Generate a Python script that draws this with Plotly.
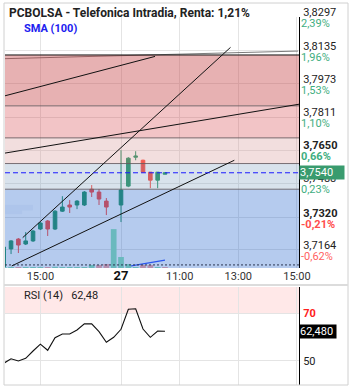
import plotly.graph_objects as go

# ---------------- data ----------------
idx = list(range(23))
opens = [3.7076, 3.7169, 3.7217, 3.7193, 3.7208, 3.7266, 3.7305, 3.7266, 3.7353, 3.7383, 3.7383, 3.7383,
         3.7460, 3.7446, 3.7402, None, 3.7383, 3.7475, 3.7616, 3.7601, 3.7543, 3.7504, 3.7533]
highs = [3.7183, 3.7212, 3.7222, 3.7251, 3.7261, 3.7300, 3.7310, 3.7358, 3.7426, 3.7407, 3.7407, 3.7451,
         3.7480, 3.7460, 3.7417, None, 3.7650, 3.7616, 3.7645, 3.7604, 3.7543, 3.7543, 3.7543]
lows = [3.7066, 3.7144, 3.7149, 3.7188, 3.7203, 3.7261, 3.7232, 3.7261, 3.7349, 3.7344, 3.7363, 3.7378,
        3.7422, 3.7383, 3.7334, None, 3.7300, 3.7470, 3.7601, 3.7541, 3.7465, 3.7465, 3.7533]
closes = [3.7178, 3.7208, 3.7188, 3.7208, 3.7256, 3.7295, 3.7266, 3.7353, 3.7373, 3.7373, 3.7402, 3.7446,
          3.7446, 3.7412, 3.7373, None, 3.7456, 3.7611, 3.7621, 3.7543, 3.7504, 3.7543, 3.7540]
volumes = [40, 30, 30, 40, 30, 30, 40, 50, 40, 30, 30, 40, 120, 120, 160, 1550, 440, 160, 20, 120, 120, 30, 20]
vol_up = [1, 1, 0, 1, 1, 1, 0, 1, 1, 1, 1, 1, 1, 0, 0, 1, 1, 1, 1, 0, 0, 1, 0]
rsi = [48.9, 50.8, 49.9, 51.0, 54.1, 57.0, 54.4, 59.7, 61.3, 61.3, 63.0, 65.6, 65.6, 62.3, 57.8, 59.9,
       63.3, 71.8, 72.0, 63.4, 59.9, 62.5, 62.48]
sma_x = [17, 18, 19, 20, 21, 22]
sma_vals = [3.7084, 3.7091, 3.7097, 3.7102, 3.7108, 3.7114]

profile_prices = [3.7370, 3.7347]
profile_sizes = [9.5, 5.8]

price_ticks = [3.8297, 3.8135, 3.7973, 3.7811, 3.7650, 3.7488, 3.7320, 3.7164]
price_labels = ["3,8297", "3,8135", "3,7973", "3,7811", "<b>3,7650</b>", "3,7488", "<b>3,7320</b>", "3,7164"]
pct_labels = ["2,39%", "1,96%", "1,53%", "1,10%", "<b>0,66%</b>", "0,23%",
              "<span style='color:#ff4d4d'><b>-0,21%</b></span>", "<span style='color:#ff5f5f'>-0,62%</span>"]

x_ticks = [5, 16, 24, 32, 40]
x_labels = ["15:00", "<span style='font-size:13px;color:#111'><b>27</b></span>", "11:00", "13:00", "15:00"]

rsi_ticks = [50, 70]
rsi_labels = ["50", "<span style='color:#ff2020'><b>70</b></span>"]

# Fibonacci-like zones (price levels, top to bottom)
zone_levels = [3.8114, 3.7866, 3.7710, 3.7585, 3.7460, 3.7050]
zone_colors = ["rgba(195,60,62,0.40)", "rgba(212,58,65,0.30)", "rgba(212,145,145,0.30)",
               "rgba(125,158,192,0.30)", "rgba(44,106,206,0.35)"]

# trend lines: (x0, y0, x1, y1)
trend_lines = [
    (2.59, 3.7224, 30.94, 3.8151),
    (0.175, 3.7636, 40.28, 3.7874),
    (1.09, 3.7086, 31.46, 3.7601),
    (0.175, 3.7915, 20.64, 3.8107),
]
grey_line = (0.175, 3.8096, 40.15, 3.8133)
low_level = 3.7091

x_range = [0.175, 40.28]
price_range = [3.7076, 3.8299]
rsi_range = [39.7, 81.2]

# ---------------- figure ----------------
UP = "rgb(30,145,95)"
DN = "rgb(255,68,55)"
FONT = "Roboto"

fig = go.Figure()

fig.add_trace(go.Bar(
    x=idx, y=volumes, width=[0.78] * len(idx),
    marker=dict(color=["rgb(140,228,182)" if u else "rgb(255,165,160)" for u in vol_up], line_width=0),
    xaxis="x", yaxis="y4", showlegend=False, hoverinfo="skip"))

fig.add_trace(go.Bar(
    x=profile_sizes, y=profile_prices, orientation="h", width=[0.0028, 0.0018],
    marker=dict(color="rgba(235,238,245,0.55)", line_width=0),
    xaxis="x3", yaxis="y", showlegend=False, hoverinfo="skip"))

fig.add_trace(go.Candlestick(
    x=idx, open=opens, high=highs, low=lows, close=closes,
    increasing=dict(line=dict(color=UP, width=1), fillcolor=UP),
    decreasing=dict(line=dict(color=DN, width=1), fillcolor=DN),
    whiskerwidth=0, xaxis="x", yaxis="y", showlegend=False))

fig.add_trace(go.Scatter(
    x=sma_x, y=sma_vals, mode="lines", line=dict(color="#2d4dff", width=1.2),
    name="SMA (100)", xaxis="x", yaxis="y", showlegend=False))

# invisible trace so the percentage axis is drawn
fig.add_trace(go.Scatter(
    x=[idx[-1]], y=[closes[-1]], mode="markers", marker=dict(opacity=0),
    xaxis="x", yaxis="y3", showlegend=False, hoverinfo="skip"))

fig.add_trace(go.Scatter(
    x=idx, y=rsi, mode="lines", line=dict(color="#111111", width=1.1),
    xaxis="x2", yaxis="y2", showlegend=False))

shapes = []
shapes.append(dict(type="line", xref="x", yref="y", x0=grey_line[0], y0=grey_line[1],
                   x1=grey_line[2], y1=grey_line[3], line=dict(color="rgba(90,90,90,0.8)", width=1),
                   layer="above"))
for i, c in enumerate(zone_colors):
    shapes.append(dict(type="rect", xref="x domain", yref="y", x0=0, x1=1,
                       y0=zone_levels[i + 1], y1=zone_levels[i], fillcolor=c, line_width=0, layer="above"))
for j, lv in enumerate(zone_levels[:-1]):
    shapes.append(dict(type="line", xref="x domain", yref="y", x0=0, x1=1, y0=lv, y1=lv,
                       line=dict(color="#111111" if j == 0 else "rgba(100,90,95,0.85)", width=1),
                       layer="above"))
for (a, b, c, d) in trend_lines:
    shapes.append(dict(type="line", xref="x", yref="y", x0=a, y0=b, x1=c, y1=d,
                       line=dict(color="#111111", width=1), layer="above"))
shapes.append(dict(type="line", xref="x domain", yref="y", x0=0, x1=1, y0=closes[-1], y1=closes[-1],
                   line=dict(color="#1a1aff", width=1, dash="5px,3px"), layer="above"))
shapes.append(dict(type="line", xref="x domain", yref="y", x0=0, x1=1, y0=low_level, y1=low_level,
                   line=dict(color="#2b3550", width=1, dash="2px,2px"), layer="above"))
shapes.append(dict(type="rect", xref="x2 domain", yref="y2", x0=0, x1=1, y0=70, y1=rsi_range[1],
                   fillcolor="#ffe8e8", line_width=0, layer="below"))
frame = "#d0d0d0"
shapes += [
    dict(type="line", xref="paper", yref="paper", x0=-0.0034, x1=1.1667, y0=1.038, y1=1.038,
         line=dict(color=frame, width=1)),
    dict(type="line", xref="paper", yref="paper", x0=-0.0034, x1=-0.0034, y0=0, y1=1.038,
         line=dict(color=frame, width=1)),
    dict(type="line", xref="paper", yref="paper", x0=1.1667, x1=1.1667, y0=0, y1=1.038,
         line=dict(color=frame, width=1)),
    dict(type="line", xref="paper", yref="paper", x0=-0.0034, x1=1.1667, y0=0.2717, y1=0.2717,
         line=dict(color="#dcdcdc", width=2)),
    dict(type="line", xref="paper", yref="paper", x0=-0.0034, x1=1.1667, y0=0, y1=0,
         line=dict(color=frame, width=1)),
]

annotations = [
    dict(xref="paper", yref="paper", x=0.007, y=1.0122, xanchor="left", yanchor="middle",
         text="<b>PCBOLSA - Telefonica Intradia, Renta: 1,21%</b>", showarrow=False,
         font=dict(family=FONT, size=12, color="#222222")),
    dict(xref="paper", yref="paper", x=0.0568, y=0.9701, xanchor="left", yanchor="middle",
         text="<b>SMA (100)</b>", showarrow=False, font=dict(family=FONT, size=11, color="#2020f0")),
    dict(xref="paper", yref="paper", x=0.0568, y=0.2427, xanchor="left", yanchor="middle",
         text="RSI (14)\u00a0\u00a0 62,48", showarrow=False, font=dict(family=FONT, size=11, color="#222222")),
    dict(xref="x domain", yref="y", x=1.0, y=closes[-1], xanchor="left", yanchor="middle",
         text="3,7540", showarrow=False, bgcolor="#399b6e", width=44, align="left", borderpad=0,
         font=dict(family=FONT, size=11, color="#ffffff")),
    dict(xref="x2 domain", yref="y2", x=1.0, y=rsi[-1], xanchor="left", yanchor="middle",
         text="62,480", showarrow=False, bgcolor="#000000", width=36, align="left", borderpad=0,
         font=dict(family=FONT, size=11, color="#ffffff")),
]

GRID = "#e4e4e4"
fig.update_layout(
    width=353, height=390,
    margin=dict(l=5, r=54, t=17, b=5),
    paper_bgcolor="white", plot_bgcolor="white",
    font=dict(family=FONT, size=11, color="#333333"),
    showlegend=False,
    xaxis=dict(domain=[0, 1], range=x_range, anchor="y", tickvals=x_ticks, ticktext=x_labels,
               showgrid=True, gridcolor=GRID, zeroline=False, showline=False, ticks="",
               tickfont=dict(family=FONT, size=11, color="#333333"), rangeslider=dict(visible=False)),
    yaxis=dict(domain=[0.3179, 1], range=price_range, anchor="x", side="right", tickvals=price_ticks,
               ticktext=price_labels, showgrid=True, gridcolor=GRID, zeroline=False, showline=True,
               linecolor="#000000", linewidth=1, ticks="", ticklabelshift=-5, ticklabelstandoff=1,
               tickfont=dict(family=FONT, size=11, color="#222222")),
    yaxis3=dict(overlaying="y", range=price_range, anchor="x", side="right", tickvals=price_ticks,
                ticktext=pct_labels, showgrid=False, zeroline=False, showline=False, ticks="",
                ticklabelshift=6, ticklabelstandoff=1,
                tickfont=dict(family=FONT, size=11, color="#3fae7f")),
    yaxis4=dict(overlaying="y", range=[0, 10000], visible=False, anchor="x"),
    xaxis3=dict(overlaying="x", range=[0, 100], visible=False, anchor="y"),
    xaxis2=dict(domain=[0, 1], range=x_range, anchor="y2", tickvals=x_ticks, showticklabels=False,
                showgrid=True, gridcolor=GRID, zeroline=False, ticks=""),
    yaxis2=dict(domain=[0, 0.2663], range=rsi_range, anchor="x2", side="right", tickvals=rsi_ticks,
                ticktext=rsi_labels, showgrid=True, gridcolor=GRID, zeroline=False, showline=True,
                linecolor="#000000", linewidth=1, ticks="", ticklabelstandoff=1,
                tickfont=dict(family=FONT, size=11, color="#222222")),
    shapes=shapes,
    annotations=annotations,
)

fig.write_html("out.html")
